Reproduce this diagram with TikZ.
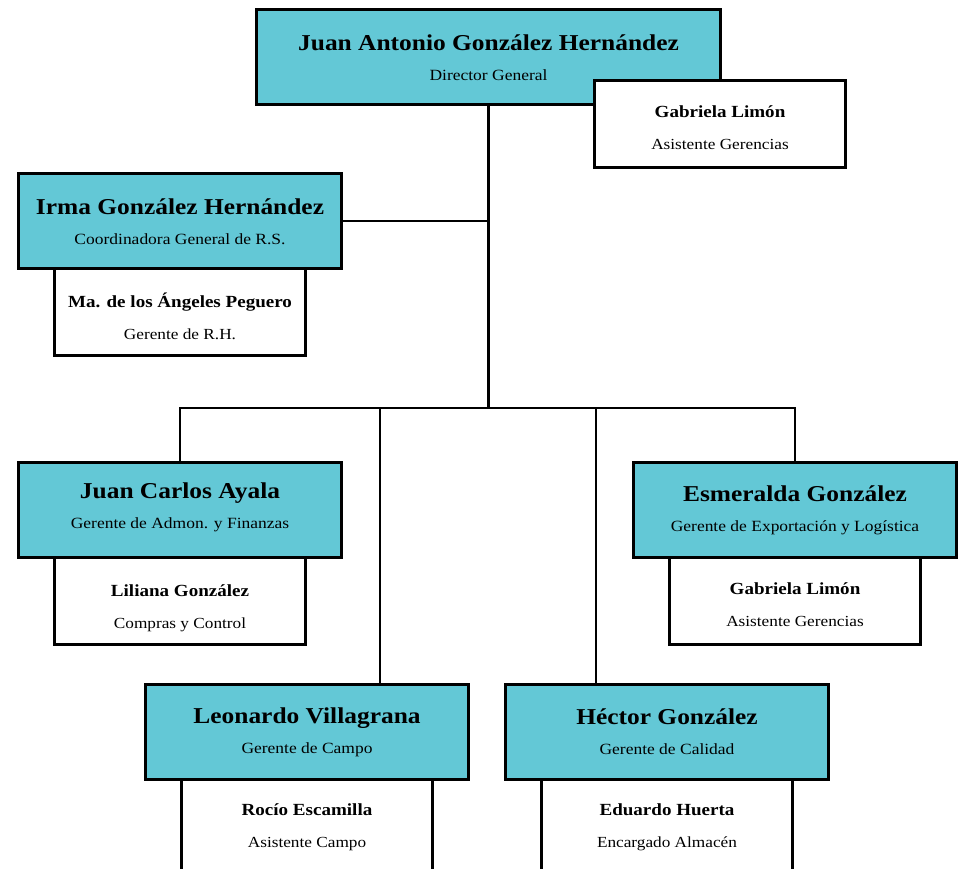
\documentclass[tikz,border=0pt]{standalone}
\usepackage{fontspec}
\setmainfont{Liberation Serif}[FakeStretch=1.12]
\definecolor{tealfill}{HTML}{63C8D6}
\newcommand\tname[1]{{\bfseries\fontsize{22.7}{30}\selectfont #1}}
\newcommand\wname[1]{{\bfseries\fontsize{17}{32}\selectfont #1}}
\begin{document}
\begin{tikzpicture}[x=1pt,y=-1pt,
 tbox/.style={draw=black, line width=3pt, fill=tealfill, minimum width=323pt, minimum height=95pt, inner sep=0pt},
 wbox/.style={draw=black, line width=2.5pt, fill=white, minimum width=251pt, minimum height=87pt, inner sep=0pt},
 ttext/.style={align=center, font=\fontsize{15.6}{30}\selectfont, inner sep=0pt},
 wtext/.style={align=center, font=\fontsize{15.4}{32}\selectfont, inner sep=0pt},
 conn/.style={line width=2.5pt, draw=black}]
\useasboundingbox (0,0) rectangle (965,868);
% teal boxes
\node[tbox, minimum width=464pt] (dir) at (488.5,57) {};
\node[tbox] (irma) at (180,221) {};
\node[tbox] (jc) at (180,510) {};
\node[tbox] (esm) at (795,510) {};
\node[tbox] (leo) at (307,732) {};
\node[tbox] (hec) at (667,732) {};
% connectors
\coordinate (busL) at (180,408);
\coordinate (busR) at (795,408);
\draw[conn] (dir.south) -- (dir.south |- busL);
\draw[conn] (irma.east) -- (irma.east -| dir.south);
\draw[conn] (jc.north) -- (busL) -- (busR) -- (esm.north);
\draw[conn] ([xshift=73pt]leo.north) -- ([xshift=73pt]leo.north |- busL);
\draw[conn] ([xshift=-71pt]hec.north) -- ([xshift=-71pt]hec.north |- busL);
% white boxes
\node[wbox] (gab1) at (720,124) {};
\node[wbox] (ang) at (180,312) {};
\node[wbox] (lil) at (180,601) {};
\node[wbox] (gab2) at (795,601) {};
\node[wbox, minimum height=95pt] (roc) at (307,827) {};
\node[wbox, minimum height=95pt] (edu) at (667,827) {};
% texts
\node[ttext] (dirt) at ([yshift=-0.5pt]dir.center) {\tname{Juan Antonio González Hernández}\\Director General};
\node[ttext] (irmat) at ([yshift=-1pt]irma.center) {\tname{Irma González Hernández}\\Coordinadora General de R.S.};
\node[ttext] (jct) at ([yshift=3pt]jc.center) {\tname{Juan Carlos Ayala}\\Gerente de Admon. y Finanzas};
\node[ttext] (esmt) at (esm.center) {\tname{Esmeralda González}\\Gerente de Exportación y Logística};
\node[ttext] (leot) at (leo.center) {\tname{Leonardo Villagrana}\\Gerente de Campo};
\node[ttext] (hect) at (hec.center) {\tname{Héctor González}\\Gerente de Calidad};
\node[wtext] (gab1t) at ([yshift=-4pt]gab1.center) {\wname{Gabriela Limón}\\Asistente Gerencias};
\node[wtext] (angt) at ([yshift=-4pt]ang.center) {\wname{Ma. de los Ángeles Peguero}\\Gerente de R.H.};
\node[wtext] (lilt) at ([yshift=-7pt]lil.center) {\wname{Liliana González}\\Compras y Control};
\node[wtext] (gab2t) at ([yshift=-4pt]gab2.center) {\wname{Gabriela Limón}\\Asistente Gerencias};
\node[wtext] (roct) at ([yshift=0pt]roc.center) {\wname{Rocío Escamilla}\\Asistente Campo};
\node[wtext] (edut) at ([yshift=0pt]edu.center) {\wname{Eduardo Huerta}\\Encargado Almacén};
\end{tikzpicture}
\end{document}
